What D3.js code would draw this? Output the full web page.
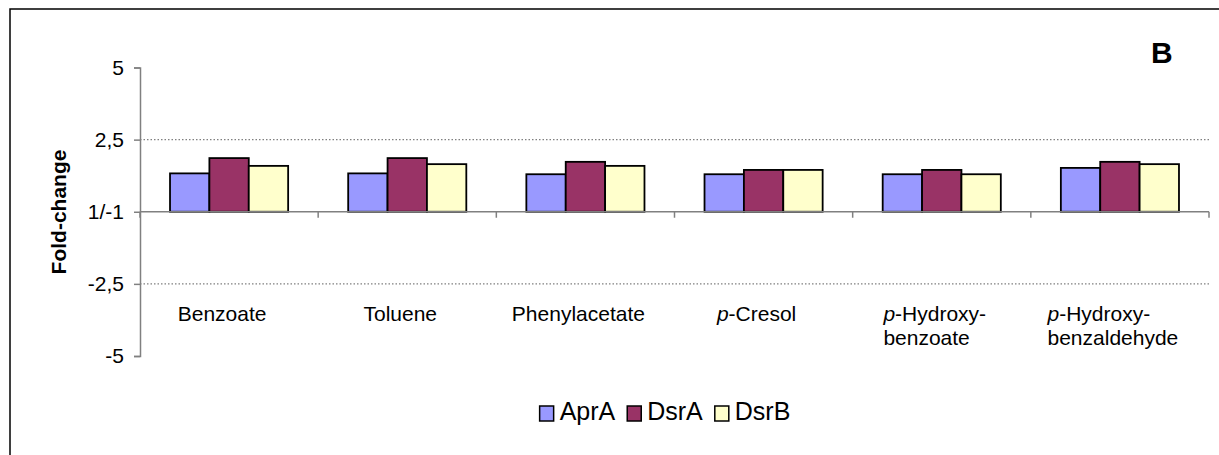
<!DOCTYPE html>
<html><head><meta charset="utf-8">
<script src="https://cdn.jsdelivr.net/npm/d3@7"></script>
<style>body{margin:0;background:#fff}svg{display:block}text{font-family:"Liberation Sans",Arial,sans-serif}</style>
</head><body><svg id="c" width="1219" height="455"></svg>
<script>
const categories = [["Benzoate"],["Toluene"],["Phenylacetate"],["p|-Cresol"],["p|-Hydroxy-","benzoate"],["p|-Hydroxy-","benzaldehyde"]];
const catKeys = ["Benzoate","Toluene","Phenylacetate","p-Cresol","p-Hydroxybenzoate","p-Hydroxybenzaldehyde"];
const seriesNames = ["AprA","DsrA","DsrB"];
const seriesColors = ["#9999FF","#993366","#FFFFCC"];
const aprA = [1.33,1.33,1.30,1.30,1.30,1.52];
const dsrA = [1.86,1.86,1.73,1.45,1.45,1.73];
const dsrB = [1.59,1.65,1.59,1.45,1.30,1.65];
const tickValues = [-5,-2.5,0,2.5,5];
const tickLabels = ["-5","-2,5","1/-1","2,5","5"];
const gridValues = [-2.5,2.5];

const svg = d3.select("#c");
svg.append("rect").attr("x",10).attr("y",9).attr("width",1240).attr("height",480)
  .attr("fill","none").attr("stroke","#000").attr("stroke-width",1.5);

const x = d3.scaleBand().domain(catKeys).range([140,1209]).paddingInner(0.337).paddingOuter(0.1685);
const xs = d3.scaleBand().domain(seriesNames).range([0,x.bandwidth()]);
const y = d3.scaleLinear().domain([-5,5]).range([356,67.5]);
const step = x.step();

// gridlines
svg.append("g").selectAll("line").data(gridValues).join("line")
  .attr("x1",140).attr("x2",1209).attr("y1",d=>y(d)).attr("y2",d=>y(d))
  .attr("stroke","#808080").attr("stroke-width",1.2).attr("stroke-dasharray","1.5,2");

// y axis
const yAxis = d3.axisLeft(y).tickValues(tickValues).tickSize(6).tickFormat((d,i)=>tickLabels[i]);
const ga = svg.append("g").attr("transform","translate(140,0)").call(yAxis);
ga.select(".domain").attr("stroke","#808080").attr("stroke-width",1.5);
ga.selectAll(".tick line").attr("stroke","#808080").attr("stroke-width",1.5);
ga.selectAll(".tick text").attr("font-size",21).attr("fill","#000").attr("font-family","Liberation Sans, Arial, sans-serif").attr("x",-16);

// bars
const data = [aprA,dsrA,dsrB];
const g = svg.append("g");
catKeys.forEach((c,i)=>{
  seriesNames.forEach((s,j)=>{
    const v = data[j][i];
    g.append("rect").attr("x",x(c)+xs(s)).attr("width",xs.bandwidth())
      .attr("y",y(Math.max(0,v))).attr("height",Math.abs(y(v)-y(0)))
      .attr("fill",seriesColors[j]).attr("stroke","#000").attr("stroke-width",1.8);
  });
});

// x axis line with boundary ticks
svg.append("line").attr("x1",140).attr("x2",1209).attr("y1",y(0)).attr("y2",y(0))
  .attr("stroke","#808080").attr("stroke-width",1.5);
const bounds = catKeys.map(c=>x(c)-x.step()*x.paddingOuter()+step);
svg.append("g").selectAll("line").data([140].concat(bounds)).join("line")
  .attr("x1",d=>d).attr("x2",d=>d).attr("y1",y(0)).attr("y2",y(0)+6)
  .attr("stroke","#808080").attr("stroke-width",1.5);

// category labels
categories.forEach((lines,i)=>{
  const cx = x(catKeys[i]) + x.bandwidth()/2 - 7;
  const t = svg.append("text").attr("font-size",21).attr("fill","#000");
  lines.forEach((ln,k)=>{
    const ts = t.append("tspan").attr("dy", k===0?0:24);
    if(ln.includes("|")){
      const [a,b] = ln.split("|");
      ts.append("tspan").attr("font-style","italic").text(a);
      ts.append("tspan").text(b);
    } else ts.text(ln);
  });
  // measure widest line
  let w = 0;
  t.selectAll(":scope > tspan").each(function(){ w=Math.max(w,this.getComputedTextLength()); });
  const left = cx - w/2;
  t.attr("x",left).attr("y",321);
  t.selectAll(":scope > tspan").attr("x",left);
});

// y title
svg.append("text").attr("transform","translate(66,212) rotate(-90)").attr("text-anchor","middle")
  .attr("font-size",21).attr("font-weight","bold").text("Fold-change");

// panel letter
svg.append("text").attr("x",1151).attr("y",63).attr("font-size",30).attr("font-weight","bold").text("B");

// legend
const lg = svg.append("g");
let lx = 0;
seriesNames.forEach((s,j)=>{
  lg.append("rect").attr("x",lx).attr("y",-14).attr("width",14).attr("height",15)
    .attr("fill",seriesColors[j]).attr("stroke","#000").attr("stroke-width",1.5);
  const t = lg.append("text").attr("x",lx+20).attr("y",0).attr("font-size",25).text(s);
  lx += 20 + t.node().getComputedTextLength() + 12;
});
lx -= 12;
lg.attr("transform",`translate(${665-lx/2},420)`);
</script></body></html>
